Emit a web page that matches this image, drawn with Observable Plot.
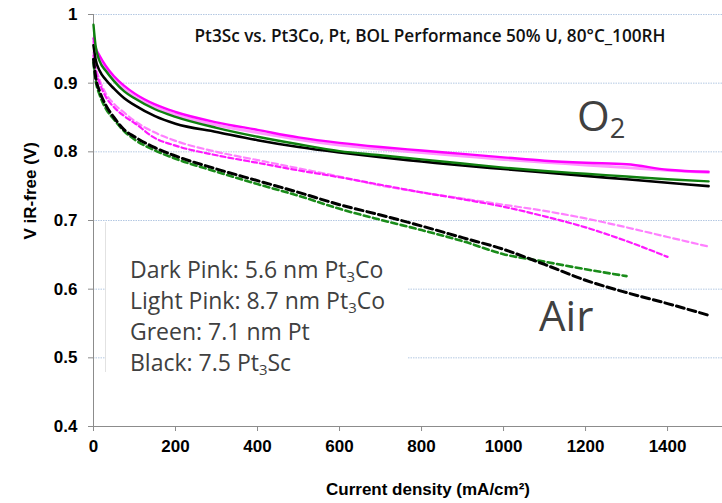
<!DOCTYPE html>
<html>
<head>
<meta charset="utf-8">
<script src="https://cdn.jsdelivr.net/npm/d3@7"></script>
<script src="https://cdn.jsdelivr.net/npm/@observablehq/plot@0.6"></script>
<style>
  html, body { margin: 0; padding: 0; background: #fff; }
  #wrap { position: relative; width: 722px; height: 503px; overflow: hidden; }
  #chart, #lines { position: absolute; left: 0; top: 0; }
  .box { position: absolute; left: 105px; top: 222px; width: 303px; height: 150px;
         background: #fff; border-left: 1px solid #e2e2e2; box-sizing: border-box;
         padding: 32px 0 0 24px; font-family: "Open Sans", sans-serif; font-size: 23px;
         line-height: 31px; color: #404040; white-space: nowrap; }
  .box sub, .ann sub { font-size: 0.65em; line-height: 0; vertical-align: -0.25em; }
  .ann { position: absolute; font-family: "Open Sans", sans-serif; font-size: 42px; line-height: 42px; color: #404040; white-space: nowrap; }
</style>
</head>
<body>
<div id="wrap">
  <div id="chart"></div>
  <div class="box">
    <div>Dark Pink: 5.6 nm Pt<sub>3</sub>Co</div>
    <div>Light Pink: 8.7 nm Pt<sub>3</sub>Co</div>
    <div>Green: 7.1 nm Pt</div>
    <div>Black: 7.5 Pt<sub>3</sub>Sc</div>
  </div>
  <div class="ann" style="left:577px; top:94px;">O<sub>2</sub></div>
  <div class="ann" style="left:539px; top:294px;">Air</div>
  <div id="lines"></div>
</div>
<script>
// Current density (mA/cm2) sample points
const current = [0, 5, 15, 30, 50, 75, 100, 150, 200, 300, 400, 500, 600, 700, 800, 900, 1000, 1100, 1200, 1300, 1400, 1500];

// O2 curves (solid)
const darkPinkO2  = [0.965, 0.952, 0.940, 0.925, 0.910, 0.896, 0.885, 0.869, 0.858, 0.843, 0.832, 0.821, 0.813, 0.807, 0.802, 0.797, 0.792, 0.787, 0.784, 0.782, 0.774, 0.771];
const lightPinkO2 = [0.960, 0.946, 0.934, 0.920, 0.905, 0.891, 0.880, 0.865, 0.854, 0.839, 0.828, 0.818, 0.810, 0.804, 0.799, 0.794, 0.789, 0.785, 0.781, 0.777, 0.773, 0.770];
const greenO2     = [0.985, 0.955, 0.932, 0.918, 0.903, 0.888, 0.878, 0.862, 0.851, 0.835, 0.822, 0.811, 0.801, 0.795, 0.789, 0.783, 0.777, 0.772, 0.768, 0.764, 0.760, 0.757];
const blackO2     = [0.955, 0.935, 0.918, 0.905, 0.892, 0.878, 0.868, 0.852, 0.841, 0.829, 0.817, 0.807, 0.799, 0.792, 0.786, 0.780, 0.775, 0.770, 0.765, 0.760, 0.755, 0.750];

// Air curves (dashed)
const lightPinkAir = [0.945, 0.925, 0.905, 0.885, 0.870, 0.857, 0.845, 0.828, 0.816, 0.800, 0.788, 0.776, 0.764, 0.751, 0.741, 0.732, 0.723, 0.714, 0.703, 0.690, 0.676, 0.662];
const darkPinkAir  = [0.940, 0.920, 0.900, 0.880, 0.865, 0.852, 0.842, 0.820, 0.809, 0.795, 0.784, 0.773, 0.763, 0.752, 0.741, 0.731, 0.720, 0.706, 0.690, 0.670, 0.647];
const greenAir     = [0.930, 0.905, 0.883, 0.863, 0.847, 0.830, 0.818, 0.802, 0.790, 0.771, 0.753, 0.736, 0.717, 0.701, 0.686, 0.670, 0.651, 0.640, 0.629, 0.619];
const blackAir     = [0.935, 0.910, 0.888, 0.868, 0.850, 0.832, 0.822, 0.806, 0.794, 0.775, 0.758, 0.741, 0.723, 0.708, 0.692, 0.675, 0.658, 0.636, 0.613, 0.595, 0.579, 0.562];

const xTicks = [0, 200, 400, 600, 800, 1000, 1200, 1400];
const yTicks = [0.4, 0.5, 0.6, 0.7, 0.8, 0.9, 1.0];
const gridTicks = [0.5, 0.6, 0.7, 0.8, 0.9, 1.0];

const title = "Pt3Sc vs. Pt3Co, Pt, BOL Performance 50% U, 80°C_100RH";
const xLabel = "Current density (mA/cm²)";
const yLabel = "V iR-free (V)";

const series = [
  {name: "lightPinkAir", values: lightPinkAir, color: "#ff80ff", width: 2.2, dash: "6,3.5"},
  {name: "darkPinkAir",  values: darkPinkAir,  color: "#ff1aff", width: 2.2, dash: "5,3"},
  {name: "greenAir",     values: greenAir,     color: "#1a8c1a", width: 2.6, dash: "6,3.5"},
  {name: "blackAir",     values: blackAir,     color: "#000000", width: 3,   dash: "8,4"},
  {name: "lightPinkO2",  values: lightPinkO2,  color: "#ff99ff", width: 3,   dash: null},
  {name: "darkPinkO2",   values: darkPinkO2,   color: "#ff00ff", width: 2.4, dash: null},
  {name: "blackO2",      values: blackO2,      color: "#000000", width: 2.6, dash: null},
  {name: "greenO2",      values: greenO2,      color: "#108010", width: 2.4, dash: null}
];

const frame = {
  width: 722, height: 503,
  marginLeft: 93, marginRight: 0, marginTop: 14, marginBottom: 77
};
const xDomain = [0, 1534];
const yDomain = [0.4, 1.0];

// Layer 1: grid, axes, titles
const chart = Plot.plot({
  ...frame,
  style: {fontFamily: "'Liberation Sans', Arial, sans-serif", background: "white", overflow: "visible"},
  x: {domain: xDomain},
  y: {domain: yDomain},
  marks: [
    Plot.gridY(gridTicks, {stroke: "#b4c8e2", strokeOpacity: 1, strokeWidth: 1, strokeDasharray: "1.5,1"}),
    Plot.ruleX([0], {stroke: "#8c8c8c", strokeWidth: 1}),
    Plot.ruleY([0.4], {stroke: "#8c8c8c", strokeWidth: 1}),
    Plot.axisY(yTicks, {tickSize: 5, tickPadding: 11, stroke: "#8c8c8c", fill: "black",
      fontSize: 17, fontWeight: "bold", label: null,
      tickFormat: d => d === 1 ? "1" : d.toFixed(1)}),
    Plot.axisX(xTicks, {tickSize: 5, tickPadding: 8, stroke: "#8c8c8c", fill: "black",
      fontSize: 17, fontWeight: "bold", label: null, tickFormat: d => String(d)}),
    Plot.text([title], {text: d => d, frameAnchor: "top", dx: 22, dy: 15,
      fontFamily: "'Open Sans', sans-serif", fontWeight: 600, fontSize: 17.2, fill: "#111"}),
    Plot.text([yLabel], {text: d => d, frameAnchor: "left", rotate: -90, dx: -63, dy: 19,
      fontSize: 17, fontWeight: "bold", fill: "black"}),
    Plot.text([xLabel], {text: d => d, frameAnchor: "bottom", dx: 20, dy: 68,
      fontSize: 17, fontWeight: "bold", fill: "black"})
  ]
});
document.getElementById("chart").appendChild(chart);

// Layer 2: the polarization curves, drawn above the text box
const lineMarks = series.map(s => {
  const rows = s.values.map((v, i) => ({x: current[i], y: v}));
  return Plot.line(rows, {x: "x", y: "y", stroke: s.color, strokeWidth: s.width,
    strokeDasharray: s.dash || undefined, curve: "monotone-x"});
});
const lines = Plot.plot({
  ...frame,
  style: {background: "transparent", overflow: "visible"},
  x: {domain: xDomain, axis: null},
  y: {domain: yDomain, axis: null},
  marks: lineMarks
});
document.getElementById("lines").appendChild(lines);
</script>
</body>
</html>
